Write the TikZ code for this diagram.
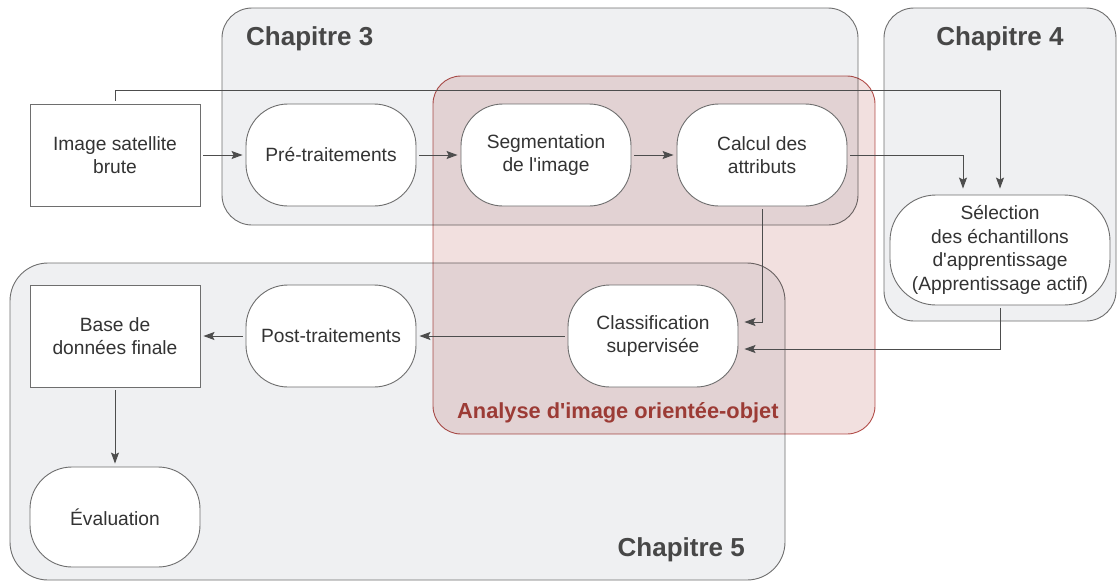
\documentclass[tikz,border=0pt]{standalone}
\usepackage{fontspec}
\setmainfont{Liberation Sans}[Ligatures=TeXOff]
\usetikzlibrary{arrows.meta, positioning}
\definecolor{boxgray}{HTML}{EFF0F2}
\definecolor{linegray}{HTML}{6E6E6E}
\definecolor{textgray}{HTML}{333333}
\definecolor{arrowgray}{HTML}{4D4D4D}
\definecolor{redfill}{HTML}{F2E0DF}
\definecolor{redline}{HTML}{B85450}
\definecolor{redtext}{HTML}{9C3B35}

\begin{document}
\begin{tikzpicture}
    [
        x=1pt, y=-1pt,
        chapter/.style={draw=linegray, fill=boxgray, rounded corners=30pt, line width=0.9pt},
        title/.style={font=\fontsize{26}{31}\selectfont\bfseries, text=textgray!90!white, inner sep=0pt},
        process/.style={rectangle, rounded corners=42pt, draw=linegray, fill=white, line width=0.9pt,
            minimum width=170pt, minimum height=102pt, align=center, text=textgray,
            font=\fontsize{19.2}{23.5}\selectfont, inner sep=0pt},
        data/.style={process, rounded corners=0pt},
        flow/.style={draw=arrowgray, line width=1pt, -{Stealth[length=11pt, width=8pt, inset=2pt]},
            shorten >=3pt, shorten <=3pt},
    ]
    \useasboundingbox (0,0) rectangle (1117,582);
    % chapter frames
    \draw[chapter] (222,8) rectangle (858,225);
    \draw[chapter] (884,8) rectangle (1116,321);
    \draw[chapter, rounded corners=38pt] (10,263) rectangle (785,580);
    \begin{scope}[blend mode=multiply]
        \draw[draw=redline, fill=redfill, line width=0.9pt, rounded corners=28pt] (433,76) rectangle (875,434);
    \end{scope}
    \node[title, anchor=base west] (ch3) at (246,45) {Chapitre 3};
    \node[title, anchor=base] (ch4) at (1000,45) {Chapitre 4};
    \node[title, anchor=base east] (ch5) at (745,556) {Chapitre 5};
    \node[anchor=base west, inner sep=0pt, text=redtext, font=\fontsize{21.8}{26}\selectfont\bfseries] (aoo) at (457,418) {Analyse d'image orientée-objet};
    % steps
    \node[data] (img) at (115,155) {Image satellite\\brute};
    \node[process] (pre) at (331,155) {Pré-traitements};
    \node[process] (seg) at (546,155) {Segmentation\\de l'image};
    \node[process] (calc) at (762,155) {Calcul des\\attributs};
    \node[process, minimum width=220pt, minimum height=110pt, rounded corners=46pt] (sel) at (1000,250) {Sélection\\des échantillons\\d'apprentissage\\(Apprentissage actif)};
    \node[process] (clas) at (653,336) {Classification\\supervisée};
    \node[process] (post) at (331,336) {Post-traitements};
    \node[data] (base) at (115,336) {Base de\\données finale};
    \node[process, minimum height=100pt] (eval) at (115,517) {Évaluation};
    % connectors
    \draw[flow] (img) -- (pre);
    \draw[flow] (pre) -- (seg);
    \draw[flow] (seg) -- (calc);
    \draw[flow, shorten >=6pt] (img.north) -- ++(0,-13) -| (sel.north);
    \draw[flow, shorten >=6pt] (calc.east) -| ([xshift=-37pt]sel.north);
    \draw[flow, shorten >=6pt] (calc.south) |- ([yshift=14pt]clas.east);
    \draw[flow, shorten >=6pt] (sel.south) |- ([yshift=-13pt]clas.east);
    \draw[flow] (clas) -- (post);
    \draw[flow] (post) -- (base);
    \draw[flow] (base) -- (eval);
\end{tikzpicture}
\end{document}
